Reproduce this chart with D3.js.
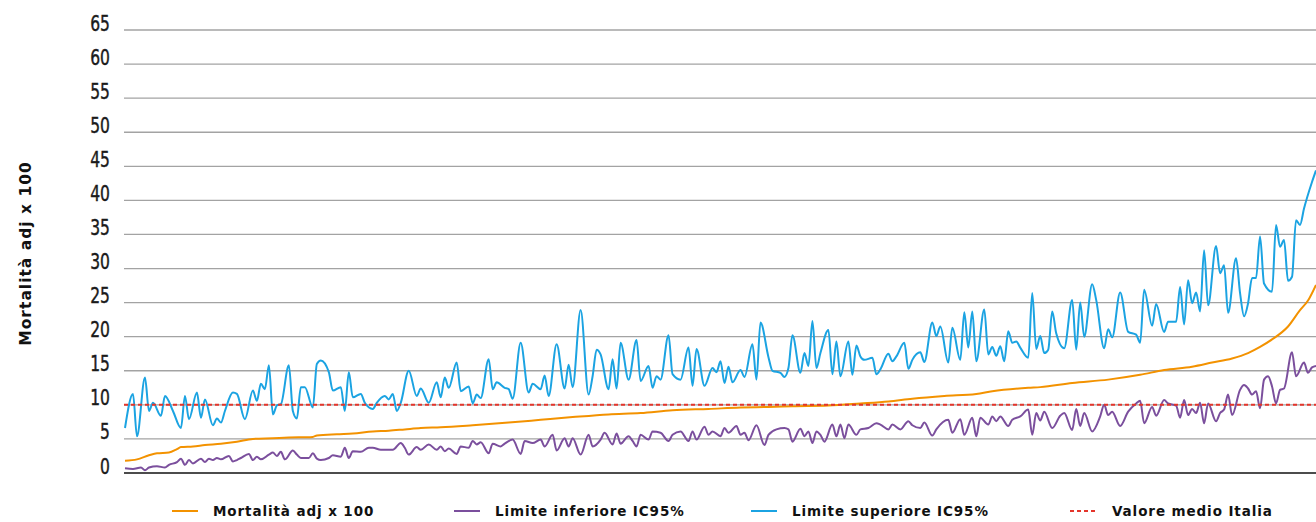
<!DOCTYPE html>
<html>
<head>
<meta charset="utf-8">
<script src="https://cdn.jsdelivr.net/npm/d3@7"></script>
<style>
  body { margin: 0; background: #fff; }
</style>
</head>
<body>
<script>
// rank of the struttura (sorted by adjusted mortality) and value
const yTicks = [0, 5, 10, 15, 20, 25, 30, 35, 40, 45, 50, 55, 60, 65];
const nRank = 298;
const italyMean = 10;
const seriesNames = ["Mortalità adj x 100", "Limite inferiore IC95%", "Limite superiore IC95%", "Valore medio Italia"];

const mortality = [[0,1.8],[3,2.0],[6,2.6],[8,2.9],[11,3.0],[13,3.5],[14,3.8],[17,3.9],[20,4.1],[24,4.3],[28,4.6],[32,5.0],[37,5.1],[41,5.2],[47,5.3],[48,5.5],[53,5.7],[57,5.8],[62,6.1],[66,6.2],[70,6.4],[74,6.6],[79,6.7],[87,7.0],[96,7.4],[104,7.8],[112,8.2],[121,8.6],[129,8.8],[137,9.2],[146,9.4],[154,9.6],[161,9.7],[167,9.8],[176,9.9],[184,10.2],[191,10.5],[197,10.9],[205,11.3],[213,11.6],[217,12.0],[226,12.5],[229,12.6],[237,13.2],[246,13.7],[254,14.4],[260,15.1],[267,15.6],[272,16.2],[277,16.8],[281,17.6],[284,18.5],[287,19.6],[291,21.5],[294,23.9],[296,25.3],[298,27.6]];

const lower = [[0,0.7],[2,0.6],[4,0.8],[5,0.4],[6,0.8],[8,1.0],[10,0.8],[11,1.2],[13,1.6],[14,2.1],[15,1.2],[16,1.9],[17,1.4],[19,2.1],[20,1.6],[21,2.1],[22,1.9],[23,2.2],[24,2.0],[26,2.5],[27,1.7],[28,1.9],[29,2.2],[31,2.8],[32,1.9],[33,2.4],[34,2.0],[36,2.7],[37,3.0],[38,2.5],[39,3.1],[40,2.0],[42,3.3],[43,2.7],[44,2.2],[46,2.2],[47,2.9],[48,2.1],[49,1.9],[51,2.2],[52,2.6],[54,2.4],[55,3.7],[56,2.2],[57,3.2],[59,3.1],[61,3.7],[62,3.7],[64,3.4],[65,3.4],[67,3.4],[69,4.4],[70,3.7],[71,2.7],[73,3.8],[74,3.4],[76,4.2],[78,3.4],[79,3.9],[80,3.2],[81,3.6],[83,2.8],[84,3.9],[86,3.7],[87,4.7],[88,4.2],[89,4.5],[91,2.9],[92,4.3],[94,3.9],[95,4.3],[97,4.9],[99,2.8],[100,4.7],[102,4.4],[104,4.9],[105,3.9],[107,5.6],[108,3.3],[110,5.1],[111,3.9],[112,5.1],[114,2.7],[116,5.6],[117,3.9],[119,4.9],[120,5.9],[122,4.2],[123,5.8],[124,4.3],[126,5.4],[127,4.7],[128,3.9],[129,5.6],[131,4.9],[132,6.1],[134,5.9],[136,4.7],[137,5.6],[139,6.1],[141,4.7],[142,6.1],[143,4.9],[145,6.8],[146,5.6],[147,6.1],[149,5.4],[150,6.6],[151,5.9],[153,6.9],[154,5.6],[155,5.9],[156,4.8],[158,7.0],[160,4.1],[161,5.6],[163,6.4],[165,6.6],[166,6.4],[167,4.6],[169,6.5],[170,5.4],[171,6.1],[172,4.4],[173,6.1],[174,5.6],[175,4.6],[177,7.1],[178,5.4],[179,7.1],[180,5.1],[181,7.1],[183,5.6],[184,6.4],[186,6.6],[188,7.3],[189,7.1],[191,6.4],[192,7.1],[194,6.4],[196,7.6],[197,7.0],[199,6.6],[200,7.4],[202,5.5],[203,6.4],[206,7.8],[207,5.9],[209,7.9],[210,5.6],[212,8.1],[213,5.4],[214,8.1],[216,7.1],[217,8.3],[218,7.6],[219,8.3],[221,6.9],[222,7.8],[224,8.3],[226,9.3],[227,5.6],[228,8.8],[229,7.7],[230,9.0],[232,6.6],[234,8.4],[235,8.8],[237,6.3],[238,9.4],[239,6.9],[240,8.8],[242,6.1],[244,8.3],[245,10.0],[246,8.5],[247,9.0],[249,6.9],[251,9.0],[253,10.2],[254,10.6],[255,7.3],[257,9.7],[258,8.4],[260,10.7],[261,10.2],[263,9.9],[264,8.1],[265,10.7],[266,8.5],[267,9.4],[268,8.8],[269,10.3],[270,7.3],[271,10.2],[273,7.6],[274,8.8],[275,9.3],[276,11.5],[277,8.5],[279,12.2],[280,12.9],[281,12.4],[282,11.5],[283,12.0],[284,9.5],[285,13.7],[286,14.2],[287,12.7],[288,10.2],[289,12.2],[290,12.4],[292,17.7],[293,14.2],[295,16.2],[296,14.7],[297,15.5],[298,15.7]];

const upper = [[0,6.6],[2,11.6],[3,5.4],[5,14.0],[6,9.1],[7,10.3],[9,8.4],[10,11.3],[12,9.1],[14,6.6],[15,11.3],[16,7.9],[18,11.8],[19,8.1],[20,10.8],[22,7.0],[23,8.0],[24,7.4],[25,9.1],[27,11.8],[28,11.6],[30,7.9],[32,12.1],[33,10.6],[34,13.1],[35,12.3],[36,15.8],[37,8.6],[38,9.9],[39,10.1],[41,15.8],[42,9.1],[43,8.0],[44,12.6],[45,12.6],[47,9.6],[48,16.0],[49,16.5],[51,14.8],[52,12.1],[54,12.6],[55,9.1],[56,14.8],[57,11.1],[59,11.6],[60,10.3],[62,9.4],[63,10.3],[65,11.3],[66,10.8],[67,11.6],[68,9.1],[69,10.3],[71,15.0],[73,11.3],[74,12.4],[76,10.3],[78,13.3],[79,11.1],[80,14.0],[81,12.5],[83,16.2],[84,12.0],[86,12.7],[87,10.2],[88,11.5],[89,11.0],[91,16.7],[92,12.3],[93,13.3],[95,12.5],[96,12.3],[97,10.9],[99,19.1],[101,11.8],[102,13.1],[104,12.3],[105,14.3],[106,11.3],[108,18.9],[110,12.4],[111,15.9],[112,12.6],[114,23.9],[116,11.5],[117,14.2],[118,18.1],[119,17.4],[121,12.3],[122,16.7],[123,12.4],[124,19.1],[126,13.7],[128,19.5],[129,13.5],[131,15.7],[132,12.5],[133,14.2],[134,13.7],[136,20.2],[137,14.5],[139,13.7],[141,18.4],[142,12.8],[143,18.2],[145,12.8],[147,15.4],[148,14.8],[149,16.4],[150,13.2],[151,15.6],[152,13.3],[154,15.1],[155,14.1],[157,18.9],[158,13.7],[159,22.1],[161,17.0],[162,15.0],[164,14.7],[165,14.1],[166,15.4],[167,20.2],[169,14.7],[170,17.6],[171,15.7],[172,22.3],[173,15.4],[174,17.6],[176,21.0],[177,14.5],[178,19.3],[179,14.2],[181,19.3],[182,14.4],[183,18.7],[184,17.1],[185,16.6],[187,16.9],[188,14.5],[189,15.2],[191,17.5],[192,16.4],[193,17.1],[195,19.1],[196,15.3],[197,16.6],[199,17.7],[200,16.3],[202,22.1],[203,20.1],[204,21.5],[206,16.2],[207,21.3],[209,16.6],[210,23.6],[211,18.4],[212,23.7],[213,16.4],[215,24.0],[216,17.4],[217,18.5],[218,17.2],[219,18.6],[220,16.4],[221,20.8],[222,19.1],[223,19.3],[224,18.4],[226,16.9],[227,26.4],[228,18.2],[229,20.1],[230,17.6],[231,18.1],[232,23.7],[233,20.5],[235,18.3],[237,25.4],[238,18.1],[239,25.0],[240,20.0],[242,27.7],[243,25.4],[245,18.3],[246,21.1],[247,19.9],[249,26.5],[251,20.7],[253,20.3],[254,19.1],[255,26.9],[257,21.6],[258,24.8],[260,20.7],[261,22.2],[263,22.2],[264,27.3],[265,21.8],[266,28.3],[267,24.9],[268,26.5],[269,23.7],[270,32.7],[271,24.6],[273,33.3],[274,29.3],[275,30.5],[276,23.5],[278,31.5],[279,26.4],[280,23.0],[281,24.9],[282,28.6],[283,28.6],[284,34.7],[285,27.8],[287,26.6],[288,36.4],[289,33.2],[290,34.2],[291,28.2],[292,28.8],[293,37.1],[294,36.4],[295,38.8],[297,42.7],[298,44.4]];

let width = 1316, height = 522;
let margin = { top: 30, right: 0, bottom: 49, left: 124 };
let colors = ["#f39200", "#7b4f9d", "#1ba3e2", "#e4352b"];
let svg, x, y;

window.addEventListener("load", (e) => {
  svg = d3.select("body")
    .append("svg")
      .attr("width", width)
      .attr("height", height);

  x = d3.scaleLinear()
    .domain([0, nRank])
    .range([margin.left + 1, width - margin.right]);
  y = d3.scaleLinear()
    .domain([0, 65])
    .range([height - margin.bottom, margin.top]);

  // gridlines
  svg.append("g")
    .selectAll("line")
    .data(yTicks.filter(t => t > 0))
    .join("line")
      .attr("x1", margin.left).attr("x2", width - margin.right)
      .attr("y1", d => y(d)).attr("y2", d => y(d))
      .attr("stroke", "#a3a3a3")
      .attr("stroke-width", 1.3);

  // y axis labels, sitting on their gridline, condensed
  let ax = svg.append("g")
    .attr("transform", `translate(${margin.left},0)`)
    .call(d3.axisLeft(y).tickValues(yTicks).tickSize(0));
  ax.select(".domain").remove();
  ax.selectAll("text")
    .attr("x", 0)
    .attr("dy", "0")
    .attr("transform", "translate(-14,0) scale(0.74,1)")
    .attr("font-family", "'DejaVu Sans', sans-serif")
    .attr("font-size", 21)
    .attr("fill", "#1a1a1a")
    .attr("stroke", "#1a1a1a")
    .attr("stroke-width", 0.45);

  svg.append("line")
    .attr("x1", margin.left).attr("x2", width - margin.right)
    .attr("y1", y(0)).attr("y2", y(0))
    .attr("stroke", "#111")
    .attr("stroke-width", 1.6);

  svg.append("text")
    .attr("transform", `translate(31,${(y(0) + y(65)) / 2 + 2}) rotate(-90)`)
    .attr("text-anchor", "middle")
    .attr("font-family", "'DejaVu Sans', sans-serif")
    .attr("font-weight", "bold")
    .attr("font-size", 15.5)
    .attr("letter-spacing", 1)
    .attr("fill", "#111")
    .text("Mortalità adj x 100");

  let line = d3.line()
    .x(d => x(d[0]))
    .y(d => y(d[1]))
    .curve(d3.curveMonotoneX);

  [mortality, lower, upper].forEach((s, i) => {
    svg.append("path")
      .datum(s)
      .attr("d", line)
      .attr("fill", "none")
      .attr("stroke", colors[i])
      .attr("stroke-width", 2)
      .attr("stroke-linejoin", "round");
  });

  svg.append("line")
    .attr("x1", margin.left).attr("x2", width - margin.right)
    .attr("y1", y(italyMean)).attr("y2", y(italyMean))
    .attr("stroke", colors[3])
    .attr("stroke-width", 2)
    .attr("stroke-dasharray", "4 3");

  // legend
  let legX = [172, 454, 751, 1070];
  let leg = svg.append("g")
    .selectAll("g")
    .data(seriesNames)
    .join("g")
      .attr("transform", (d, i) => `translate(${legX[i]},511)`);
  leg.append("line")
    .attr("x1", 0).attr("x2", 26)
    .attr("stroke", (d, i) => colors[i])
    .attr("stroke-width", 2)
    .attr("stroke-dasharray", (d, i) => i == 3 ? "4 3" : null);
  leg.append("text")
    .attr("x", (d, i) => i == 3 ? 42 : 41)
    .attr("y", 5)
    .attr("font-family", "'DejaVu Sans', sans-serif")
    .attr("font-weight", "bold")
    .attr("font-size", 13.5)
    .attr("letter-spacing", 0.9)
    .attr("fill", "#111")
    .text(d => d);
});
</script>
</body>
</html>
